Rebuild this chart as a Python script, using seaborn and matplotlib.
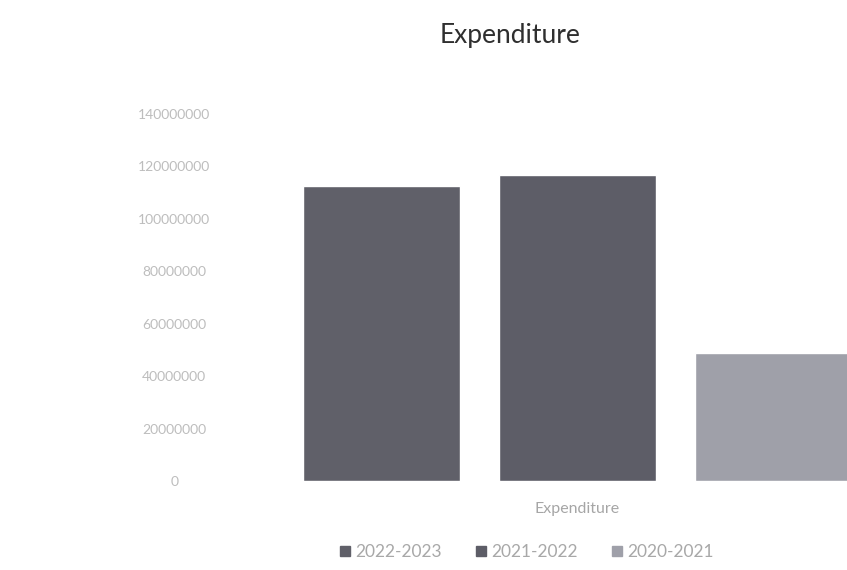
import matplotlib
matplotlib.use('Agg')
import matplotlib.pyplot as plt
import seaborn as sns
import pandas as pd

# data
years = ['2022-2023', '2021-2022', '2020-2021']
values = [112400000, 116600000, 48800000]
category = ['Expenditure'] * 3
yticks = [0, 20000000, 40000000, 60000000, 80000000, 100000000, 120000000, 140000000]
colors = ['#606069', '#5d5d67', '#9fa0a9']

df = pd.DataFrame({'cat': category, 'year': years, 'value': values})

sns.set_theme(style='white')
plt.rcParams['font.family'] = ['Lato', 'DejaVu Sans']

fig = plt.figure(figsize=(8.47, 5.70), dpi=100)
ax = fig.add_axes([220 / 847, 1 - 481 / 570, 1 - 220 / 847, (481 - 114) / 570])

sns.barplot(data=df, x='cat', y='value', hue='year', hue_order=years,
            palette=colors, width=0.8, gap=0.2, saturation=1, ax=ax,
            legend=False)

ax.set_ylim(0, 140000000)
ax.set_xlim(-0.486, 0.367)
ax.set_yticks(yticks)
ax.set_yticklabels([str(v) for v in yticks])
for lbl in ax.get_yticklabels():
    lbl.set_horizontalalignment('center')
ax.tick_params(axis='y', length=0, pad=33, labelsize=10, labelcolor='#bdbdbd')
ax.tick_params(axis='x', length=0, pad=15, labelsize=11.5, labelcolor='#a6a6a6')
ax.set_xlabel('')
ax.set_ylabel('')
sns.despine(ax=ax, left=True, bottom=True)

fig.text(510 / 847, 1 - 35 / 570, 'Expenditure', ha='center', va='center',
         fontsize=19, color='#2f2f2f')

handles = [plt.Rectangle((0, 0), 1, 1, color=c) for c in colors]
fig.legend(handles, years, loc='center', bbox_to_anchor=(527 / 847, 1 - 552 / 570),
           ncol=3, frameon=False, fontsize=12.5, handlelength=0.55, handleheight=0.55,
           handletextpad=0.3, columnspacing=2.0, labelcolor='#a8a8a8')

fig.savefig('out.png', dpi=100)
